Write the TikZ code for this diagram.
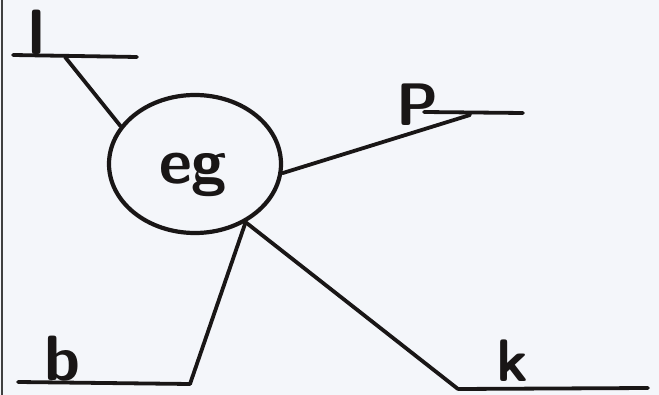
\documentclass[tikz,border=0pt]{standalone}
\usetikzlibrary{shapes.geometric}
\definecolor{paper}{RGB}{244,246,250}
\definecolor{inkc}{RGB}{25,22,22}
\begin{document}
\begin{tikzpicture}[x=1pt,y=-1pt,
  ink/.style={draw=inkc, line width=3.8pt, line cap=round, line join=round},
  letter/.style={font=\sffamily\bfseries\fontsize{64}{64}\selectfont, text=inkc, anchor=base, inner sep=0pt}]
\useasboundingbox (0,0) rectangle (659,395);
\fill[paper] (0,0) rectangle (659,395);
\draw[gray!50!black, line width=2pt] (2,0) -- (2,395);
% central circle
\node[ellipse, ink, line width=4.2pt, minimum width=172pt, minimum height=138pt, inner sep=0pt] (eg) at (195,164) {};
\node[letter] (egtext) at (193,184) {eg};
% letters
\node[letter] (l) at (37,55) {l};
\node[letter, font=\sffamily\bfseries\fontsize{60}{60}\selectfont] (p) at (418,126) {P};
\node[letter] (b) at (62,381) {b};
\node[letter, font=\sffamily\bfseries\fontsize{60}{60}\selectfont] (k) at (512,382) {k};
% underline coordinates
\coordinate (lL) at (13,55);
\coordinate (lR) at (137,57);
\coordinate (lJ) at (65,57);
\coordinate (pL) at (424,112);
\coordinate (pR) at (523,113);
\coordinate (pJ) at (470,115);
\coordinate (bL) at (18,382);
\coordinate (bR) at (190,384);
\coordinate (kL) at (458,389);
\coordinate (kR) at (648,388);
% underlines
\draw[ink] (lL) -- (lR);
\draw[ink] (pL) -- (pR);
\draw[ink] (bL) -- (bR);
\draw[ink] (kL) -- (kR);
% connectors
\draw[ink] (lJ) -- (eg.153);
\draw[ink] (eg.-6) -- (pJ);
\draw[ink] (bR) -- (eg.-49);
\draw[ink] (eg.-49) -- (kL);
\end{tikzpicture}
\end{document}
